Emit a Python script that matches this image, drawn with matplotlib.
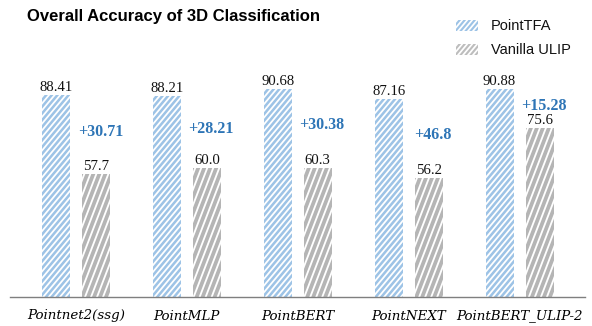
import numpy as np
import matplotlib
matplotlib.use("Agg")
import matplotlib.pyplot as plt
from matplotlib.patches import Rectangle
from matplotlib.collections import LineCollection
from matplotlib.transforms import IdentityTransform

categories = ["Pointnet2(ssg)", "PointMLP", "PointBERT", "PointNEXT", "PointBERT_ULIP-2"]
pointtfa = [88.41, 88.21, 90.68, 87.16, 90.88]
vanilla = [57.7, 60.0, 60.3, 56.2, 75.6]
gains = ["+30.71", "+28.21", "+30.38", "+46.8", "+15.28"]
series_names = ["PointTFA", "Vanilla ULIP"]

BLUE = "#9DC3E6"
GRAY = "#B5B5B5"
GAIN_C = "#2E75B6"

W, H, DPI = 592, 326, 100
YMIN, YMAX = 10, 117.7
fig = plt.figure(figsize=(W / DPI, H / DPI), dpi=DPI)
ax = fig.add_axes([10 / W, 29 / H, 575 / W, 277 / H])
ax.set_xlim(-0.595, 4.59)
ax.set_ylim(YMIN, YMAX)

x = np.arange(len(categories))
bw = 0.252
off = 0.18
b1 = ax.bar(x - off, np.array(pointtfa) - YMIN, bw, bottom=YMIN, color="white", edgecolor="none")
b2 = ax.bar(x + off, np.array(vanilla) - YMIN, bw, bottom=YMIN, color="white", edgecolor="none")

BLUE_ST = dict(color=BLUE, slope=1.2, spacing=5.6, lw=1.8)
GRAY_ST = dict(color=GRAY, slope=2.6, spacing=6.0, lw=2.7)
GRAY_LEG = dict(color="#BDBDBD", slope=1.2, spacing=5.0, lw=1.5)
BLUE_LEG = dict(color=BLUE, slope=1.2, spacing=5.0, lw=1.5)


def stripes(patch, color, slope, spacing, lw, container):
    verts = patch.get_transform().transform(patch.get_path().vertices)
    x0, y0 = verts.min(axis=0)
    x1, y1 = verts.max(axis=0)
    h = (y1 - y0) + 4
    dx = h / slope
    segs = []
    s = x0 - dx - spacing
    while s < x1 + spacing:
        segs.append([(s, y0 - 2), (s + dx, y1 + 2)])
        s += spacing
    lc = LineCollection(segs, colors=color, linewidths=lw, transform=IdentityTransform())
    if container is ax:
        ax.add_collection(lc, autolim=False)
    else:
        fig.add_artist(lc)
    lc.set_clip_path(patch.get_path(), patch.get_transform())


for p in b1:
    stripes(p, container=ax, **BLUE_ST)
for p in b2:
    stripes(p, container=ax, **GRAY_ST)

vfont = dict(family="Liberation Serif", fontsize=10.6, color="#111111")
for i in range(len(categories)):
    ax.text(x[i] - off, pointtfa[i] + 0.4, f"{pointtfa[i]}", ha="center", va="bottom", **vfont)
    ax.text(x[i] + off, vanilla[i] + 0.4, f"{vanilla[i]}", ha="center", va="bottom", **vfont)
    ax.text(x[i] + off + 0.04, (pointtfa[i] + vanilla[i]) / 2 + 1.2, gains[i], ha="center", va="center",
            family="Liberation Serif", fontweight="bold", fontsize=11.5, color=GAIN_C)

for s in ["top", "right", "left"]:
    ax.spines[s].set_visible(False)
ax.spines["bottom"].set_color("#7f7f7f")
ax.spines["bottom"].set_linewidth(1.0)
ax.set_yticks([])
ax.set_xticks(x)
ax.set_xticklabels(categories, family="DejaVu Serif", style="italic", fontsize=9.6)
ax.tick_params(axis="x", length=0, pad=9)

fig.text(27 / W, 1 - 21 / H, "Overall Accuracy of 3D Classification", family="Liberation Sans",
         fontweight="bold", fontsize=12, ha="left", va="baseline")

# legend
for j, (name, st) in enumerate([(series_names[0], BLUE_LEG), (series_names[1], GRAY_LEG)]):
    top = 20.5 + j * 24
    r = Rectangle((456 / W, 1 - (top + 10) / H), 22 / W, 10 / H, transform=fig.transFigure,
                  facecolor="white", edgecolor="none")
    fig.add_artist(r)
    stripes(r, container=fig, **st)
    fig.text(491 / W, 1 - (top + 5) / H, name, family="Liberation Sans", fontsize=10.5,
             ha="left", va="center", color="#111111")

fig.savefig("out.png", dpi=DPI)
